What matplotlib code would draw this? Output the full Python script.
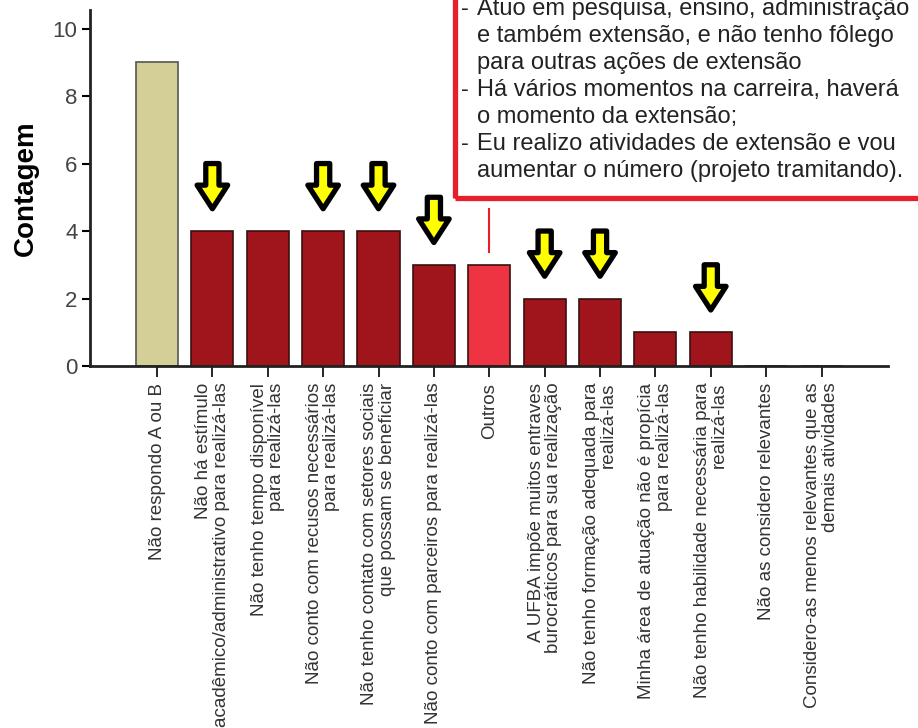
import matplotlib.pyplot as plt
from matplotlib.patches import Rectangle

plt.rcParams['font.family'] = ['Liberation Sans', 'DejaVu Sans']

categorias = [
    "Não respondo A ou B",
    "Não há estímulo\nacadêmico/administrativo para realizá-las",
    "Não tenho tempo disponível\npara realizá-las",
    "Não conto com recusos necessários\npara realizá-las",
    "Não tenho contato com setores sociais\nque possam se beneficiar",
    "Não conto com parceiros para realizá-las",
    "Outros",
    "A UFBA impõe muitos entraves\nburocráticos para sua realização",
    "Não tenho formação adequada para\nrealizá-las",
    "Minha área de atuação não é propícia\npara realizá-las",
    "Não tenho habilidade necessária para\nrealizá-las",
    "Não as considero relevantes",
    "Considero-as menos relevantes que as\ndemais atividades",
]
contagem = [9, 4, 4, 4, 4, 3, 3, 2, 2, 1, 1, 0, 0]
destacados = [1, 3, 4, 5, 7, 8, 10]  # barras com seta amarela
# linhas da caixa de "Outros" (True = começa com hífen)
outros_linhas = [
    (True, "Atuo em pesquisa, ensino, administração"),
    (False, "e também extensão, e não tenho fôlego"),
    (False, "para outras ações de extensão"),
    (True, "Há vários momentos na carreira, haverá"),
    (False, "o momento da extensão;"),
    (True, "Eu realizo atividades de extensão e vou"),
    (False, "aumentar o número (projeto tramitando)."),
]

cores = ['#D4CF97'] + ['#A0151B'] * 5 + ['#EE3342'] + ['#A0151B'] * 6
bordas = ['#555555'] + ['#3a1010'] * 12

fig = plt.figure(figsize=(9.18, 7.28), dpi=100)
ax = fig.add_axes([90 / 918, 1 - 366 / 728, (888 - 90) / 918, (366 - 10) / 728])

x = list(range(len(contagem)))
ax.bar(x, contagem, width=0.76, color=cores, edgecolor=bordas, linewidth=1.2, zorder=2)

ax.set_xlim(-1.21, 13.2)
ax.set_ylim(0, 10.55)
ax.set_yticks([0, 2, 4, 6, 8, 10])
ax.set_xticks(x)
ax.set_xticklabels(categorias, rotation=90, ha='center', va='top',
                   multialignment='right', fontsize=13.5, color='#333333',
                   linespacing=1.02)
ax.tick_params(axis='y', labelsize=16, labelcolor='#444444', length=6, width=1.5, pad=3)
ax.tick_params(axis='x', length=8, width=1.2, pad=4)
for s in ['top', 'right']:
    ax.spines[s].set_visible(False)
for s in ['left', 'bottom']:
    ax.spines[s].set_linewidth(2)
    ax.spines[s].set_color('#222222')
ax.set_ylabel('Contagem', fontsize=20, fontweight='bold', labelpad=10)

# setas amarelas
for i in destacados:
    v = contagem[i]
    ax.annotate('', xy=(i, v + 0.66), xytext=(i, v + 2.0),
                arrowprops=dict(arrowstyle='simple,head_length=1.7,head_width=2.2,tail_width=0.95',
                                fc='#FFFF00', ec='black', lw=3.8, mutation_scale=10,
                                shrinkA=0, shrinkB=0, joinstyle='round'),
                zorder=4)

# caixa de texto "Outros"
fig.patches.append(Rectangle((455, 728 - 198), 480, 240, transform=None, fill=False,
                             edgecolor='#E5202A', linewidth=3.8, figure=fig))
for k, (hifen, linha) in enumerate(outros_linhas):
    yy = 1 - (9 + 27 * k) / 728
    if hifen:
        fig.text(461 / 918, yy, '-', fontsize=17, color='#222222', va='center')
    fig.text(477 / 918, yy, linha, fontsize=17, color='#222222', va='center')
ax.plot([6, 6], [contagem[6] + 0.38, contagem[6] + 1.66], color='#E5202A', lw=1.5, zorder=1)

fig.savefig('out.png', dpi=100)
